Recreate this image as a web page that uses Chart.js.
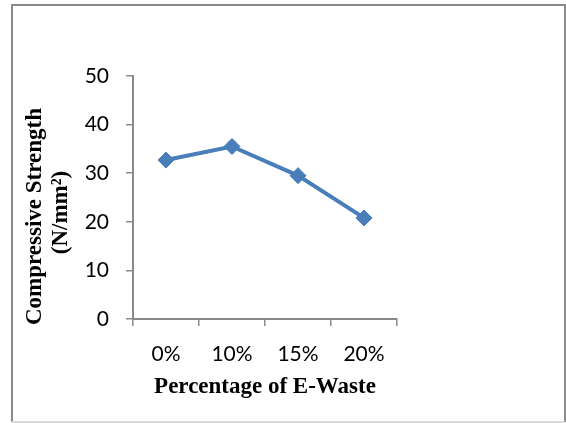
<!DOCTYPE html>
<html>
<head>
<meta charset="utf-8">
<script src="https://cdn.jsdelivr.net/npm/chart.js@4/dist/chart.umd.min.js"></script>
<style>
  html, body { margin: 0; padding: 0; background: #fff; }
  #wrap { position: relative; width: 566px; height: 423px; }
</style>
</head>
<body>
<div id="wrap"><canvas id="c" width="566" height="423"></canvas></div>
<script>
// E-waste replacement levels and measured compressive strength
const categories = ['0%', '10%', '15%', '20%'];
const strength = [32.7, 35.5, 29.5, 20.8];
const yTicks = [0, 10, 20, 30, 40, 50];

const xTitle = 'Percentage of E-Waste';
const yTitleLines = ['Compressive Strength', '(N/mm\u00B2)'];

const axisGrey = '#898989';
const lineBlue = '#4A7EBB';

// Outer frame and rotated y-axis title
const decor = {
  id: 'decor',
  beforeDraw(chart) {
    const ctx = chart.ctx;
    ctx.save();
    ctx.fillStyle = '#fff';
    ctx.fillRect(0, 0, chart.width, chart.height);
    ctx.strokeStyle = '#8a8a8a';
    ctx.lineWidth = 2;
    ctx.beginPath();
    ctx.moveTo(12, 422);
    ctx.lineTo(12, 5);
    ctx.lineTo(565, 5);
    ctx.lineTo(565, 422);
    ctx.stroke();
    ctx.strokeStyle = '#d9d9d9';
    ctx.beginPath();
    ctx.moveTo(12, 422);
    ctx.lineTo(565, 422);
    ctx.stroke();
    ctx.restore();
  },
  afterDraw(chart) {
    const ctx = chart.ctx;
    const area = chart.chartArea;
    ctx.save();
    ctx.fillStyle = '#000';
    ctx.font = 'bold 23px "Liberation Serif", "Times New Roman", serif';
    ctx.textAlign = 'center';
    ctx.textBaseline = 'middle';
    const cy = (area.top + area.bottom) / 2 + 19;
    ctx.translate(35, cy);
    ctx.rotate(-Math.PI / 2);
    ctx.fillText(yTitleLines[0], 0, 0);
    ctx.fillText(yTitleLines[1], 4, 26);
    ctx.restore();
  }
};

new Chart(document.getElementById('c'), {
  type: 'line',
  data: {
    labels: categories,
    datasets: [{
      data: strength,
      borderColor: lineBlue,
      backgroundColor: lineBlue,
      borderWidth: 4,
      pointStyle: 'rectRot',
      pointRadius: 8,
      pointHoverRadius: 8,
      pointBorderWidth: 1,
      tension: 0
    }]
  },
  options: {
    responsive: false,
    animation: false,
    events: [],
    layout: { padding: { left: 0, right: 169, top: 76, bottom: 22 } },
    plugins: { legend: { display: false }, tooltip: { enabled: false } },
    scales: {
      x: {
        offset: true,
        grid: { offset: true, drawOnChartArea: false, drawTicks: true, tickLength: 7, color: axisGrey, lineWidth: 1.5 },
        border: { color: axisGrey, width: 2 },
        ticks: { color: '#000', font: { family: 'Lato', size: 21 }, padding: 16, maxRotation: 0 },
        title: { display: true, text: xTitle, color: '#000', font: { family: '"Liberation Serif"', size: 23, weight: 'bold' }, padding: { top: 0, bottom: 0 } },
        afterFit(s) { s.height = 82; }
      },
      y: {
        min: 0,
        max: 50,
        afterBuildTicks(s) { s.ticks = yTicks.map(v => ({ value: v })); },
        grid: { drawOnChartArea: false, drawTicks: true, tickLength: 7, color: axisGrey, lineWidth: 1.5 },
        border: { color: axisGrey, width: 2 },
        ticks: { color: '#000', font: { family: 'Lato', size: 21 }, padding: 17 },
        afterFit(s) { s.width = 133; }
      }
    }
  },
  plugins: [decor]
});
</script>
</body>
</html>
